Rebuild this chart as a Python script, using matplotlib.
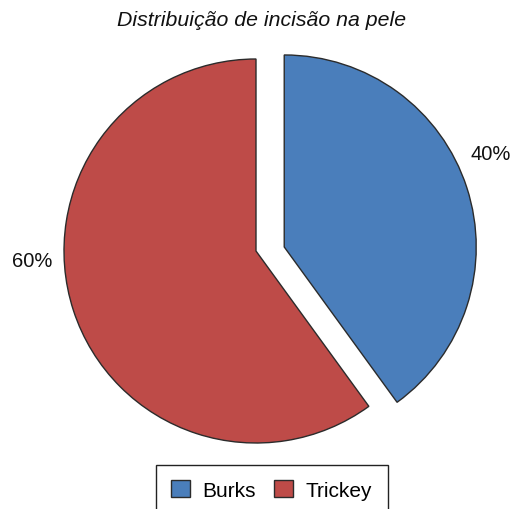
import matplotlib
matplotlib.use("Agg")
import matplotlib.pyplot as plt
import numpy as np

plt.rcParams['font.family'] = ['Liberation Sans', 'DejaVu Sans']

categories = ["Burks", "Trickey"]
values = [40, 60]
colors = ["#4A7EBB", "#BE4B48"]
title = "Distribuição de incisão na pele"

W, H = 514, 510
fig = plt.figure(figsize=(W / 100, H / 100), dpi=100)
ax = fig.add_axes([0, 0, 1, 1])

R = 192.0
cx, cy = 256.0, H - 252.0  # pie centre in pixels from bottom-left

wedges, texts, autotexts = ax.pie(
    values, colors=colors, startangle=90, counterclock=False,
    autopct='%d%%', pctdistance=1.17,
    wedgeprops=dict(edgecolor="#2b2b2b", linewidth=1.0),
    textprops=dict(fontsize=14.5, color="#111111"),
)
# explode the Burks slice
wedges[0].set_center((0.147, 0.021))

# label positions (data units relative to pie centre)
autotexts[0].set_position((1.224, 0.508))
autotexts[1].set_position((-1.167, -0.05))
for t in autotexts:
    t.set_ha('center')
    t.set_va('center')

ax.set_aspect('auto')
ax.set_xlim(-cx / R, (W - cx) / R)
ax.set_ylim(-cy / R, (H - cy) / R)
ax.axis('off')

fig.text(261.5 / W, 1 - 21 / H, title, ha='center', va='center',
         fontsize=15.3, style='italic', color="#111111")

leg = fig.legend(wedges, categories, loc='upper left',
                 bbox_to_anchor=(155.5 / W, 1 - 466 / H),
                 ncol=2, frameon=True, fancybox=False, shadow=False,
                 fontsize=15, borderpad=0.74, handlelength=0.9,
                 handleheight=0.85, handletextpad=0.6, columnspacing=0.9,
                 borderaxespad=0)
leg.get_frame().set_edgecolor('#222222')
leg.get_frame().set_linewidth(1.0)
leg.get_frame().set_alpha(1)

fig.savefig("out.png", dpi=100)
